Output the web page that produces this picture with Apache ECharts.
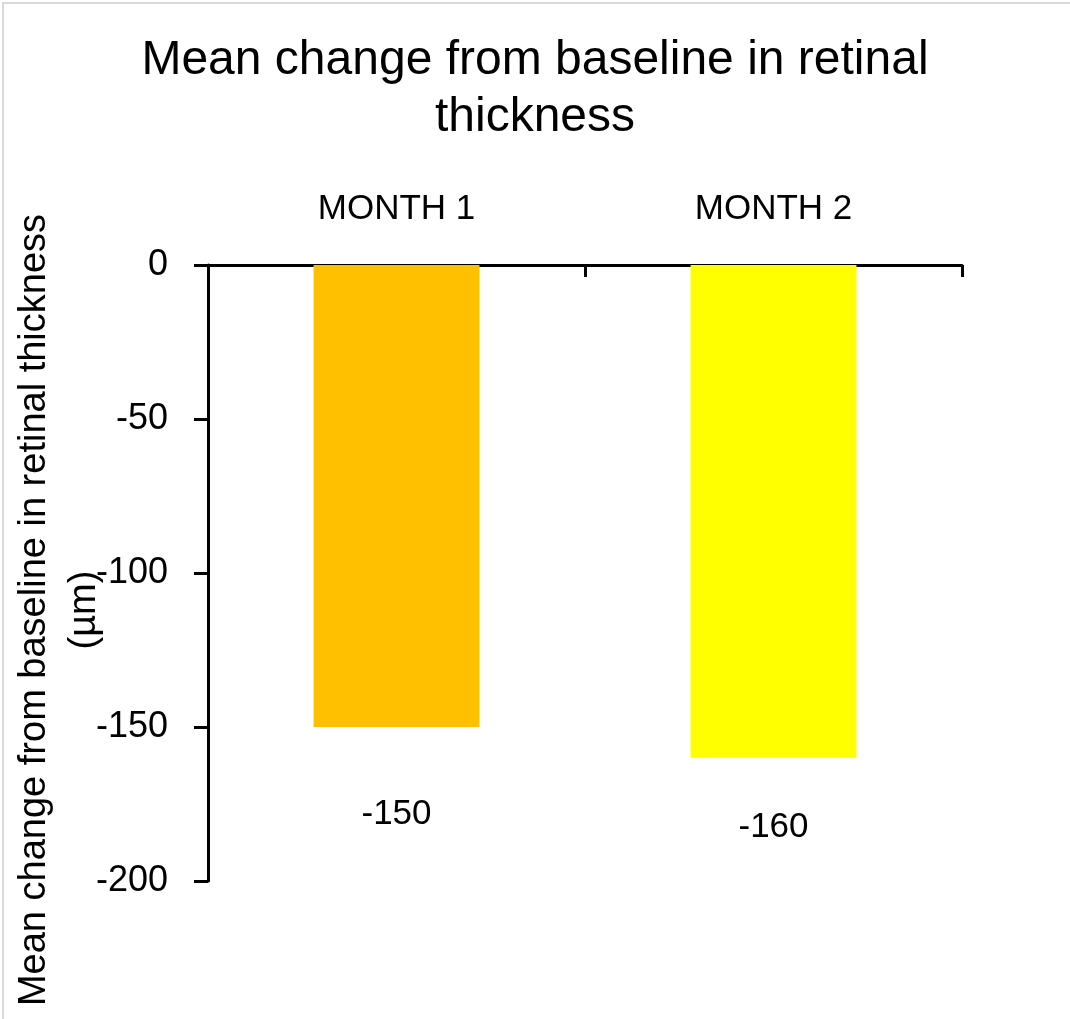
<!DOCTYPE html>
<html>
<head>
<meta charset="utf-8">
<script src="https://cdn.jsdelivr.net/npm/echarts@6/dist/echarts.min.js"></script>
<style>
  html, body { margin: 0; padding: 0; background: #fff; }
  #frame { position: absolute; left: 2px; top: 2px; width: 1080px; height: 1030px; border-top: 2px solid #d9d9d9; border-left: 2px solid #d9d9d9; }
  #chart { position: absolute; left: 0; top: 0; width: 1070px; height: 1019px; }
</style>
</head>
<body>
<div id="frame"></div>
<div id="chart"></div>
<script>
const categories = ['MONTH 1', 'MONTH 2'];
const values = [-150, -160];
const barColors = ['#FFC000', '#FFFF00'];
const yTicks = { min: -200, max: 0, interval: 50 };
const titleText = 'Mean change from baseline in retinal\nthickness';
const yName = 'Mean change from baseline in retinal thickness\n(µm)';

const FONT = '"Liberation Sans Narrow", "Arial Narrow", "Liberation Sans", sans-serif';
const labelDist = [70, 52];

const chart = echarts.init(document.getElementById('chart'), null, { renderer: 'canvas' });
chart.setOption({
  backgroundColor: 'transparent',
  animation: false,
  title: {
    text: titleText,
    left: 'center',
    top: 27,
    textStyle: { fontFamily: FONT, fontSize: 48, fontWeight: 'normal', color: '#000', lineHeight: 57 }
  },
  grid: { left: 208, right: 108, top: 265, bottom: 138, containLabel: false, outerBoundsMode: 'none' },
  xAxis: {
    type: 'category',
    position: 'top',
    data: categories,
    axisLine: { lineStyle: { color: '#000', width: 3 } },
    axisTick: { show: true, inside: true, length: 12, lineStyle: { color: '#000', width: 3 } },
    axisLabel: { color: '#000', fontFamily: FONT, fontSize: 35, margin: 38 }
  },
  yAxis: {
    type: 'value',
    min: yTicks.min, max: yTicks.max, interval: yTicks.interval,
    name: yName,
    nameLocation: 'middle',
    nameRotate: 90,
    nameGap: 98,
    nameMoveOverlap: false,
    nameTextStyle: { color: '#000', fontFamily: FONT, fontSize: 38, lineHeight: 50, padding: [0, 74, 0, 0] },
    splitLine: { show: false },
    axisLine: { show: true, lineStyle: { color: '#000', width: 3 } },
    axisTick: { show: true, length: 14, lineStyle: { color: '#000', width: 3 } },
    axisLabel: { color: '#000', fontFamily: FONT, fontSize: 36, margin: 40 }
  },
  series: [{
    type: 'bar',
    barWidth: '44%',
    data: values.map((v, i) => ({
      value: v,
      itemStyle: { color: barColors[i] },
      label: { distance: labelDist[i] }
    })),
    label: {
      show: true,
      position: 'bottom',
      color: '#000',
      fontFamily: FONT,
      fontSize: 35
    }
  }]
});
</script>
</body>
</html>
